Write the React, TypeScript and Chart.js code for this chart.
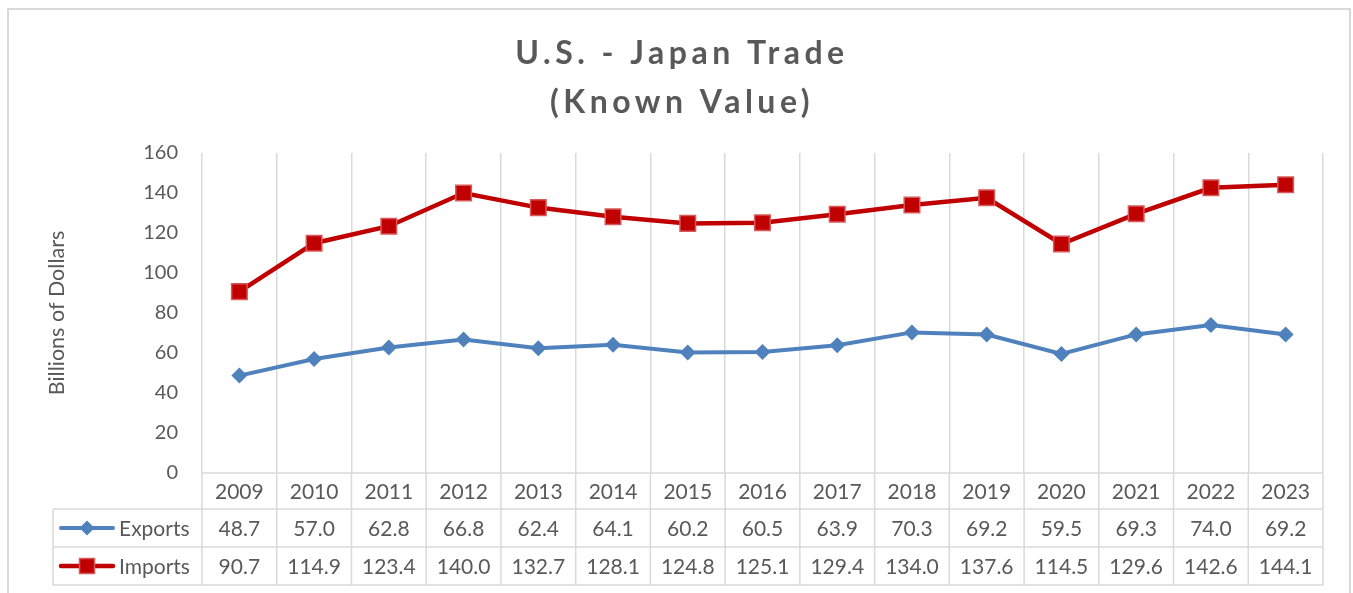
import React, { useEffect, useRef } from "react";
import { Chart, registerables } from "chart.js";

Chart.register(...registerables);

const years = ["2009", "2010", "2011", "2012", "2013", "2014", "2015", "2016", "2017", "2018", "2019", "2020", "2021", "2022", "2023"];
const exportsVals = [48.7, 57.0, 62.8, 66.8, 62.4, 64.1, 60.2, 60.5, 63.9, 70.3, 69.2, 59.5, 69.3, 74.0, 69.2];
const importsVals = [90.7, 114.9, 123.4, 140.0, 132.7, 128.1, 124.8, 125.1, 129.4, 134.0, 137.6, 114.5, 129.6, 142.6, 144.1];
const titleLines = ["U.S. - Japan Trade", "(Known Value)"];
const yTitle = "Billions of Dollars";

const FONT = "Lato, 'Open Sans', sans-serif";
const TEXT = "#595959";
const GRID = "#d9d9d9";
const BLUE = "#4f81bd";
const RED = "#c00000";
const RED_BORDER = "#d65a5a";

const W = 1353;
const H = 593;

const tablePlugin = {
  id: "excelTable",
  afterDraw(chart: any) {
    const ctx = chart.ctx as CanvasRenderingContext2D;
    const area = chart.chartArea;
    const xs = chart.scales.x;
    const n = years.length;
    const colW = (area.right - area.left) / n;
    const rowTop = area.bottom;
    const r1 = rowTop + 36;
    const r2 = r1 + 38;
    const r3 = r2 + 38;
    const leftX = 53;

    ctx.save();
    ctx.strokeStyle = GRID;
    ctx.lineWidth = 2;
    ctx.beginPath();
    ctx.moveTo(8, H + 10);
    ctx.lineTo(8, 9);
    ctx.lineTo(1350, 9);
    ctx.lineTo(1350, H + 10);
    ctx.stroke();

    ctx.lineWidth = 1.5;
    ctx.strokeStyle = GRID;
    ctx.beginPath();
    ctx.moveTo(area.left, rowTop);
    ctx.lineTo(area.right, rowTop);
    ctx.moveTo(leftX, r1);
    ctx.lineTo(area.right, r1);
    ctx.moveTo(leftX, r2);
    ctx.lineTo(area.right, r2);
    ctx.moveTo(leftX, r3);
    ctx.lineTo(area.right, r3);
    ctx.moveTo(leftX, r1);
    ctx.lineTo(leftX, r3);
    for (let i = 0; i <= n; i++) {
      const x = area.left + i * colW;
      ctx.moveTo(x, rowTop);
      ctx.lineTo(x, r3);
    }
    ctx.stroke();

    ctx.fillStyle = TEXT;
    ctx.font = `21px ${FONT}`;
    ctx.textAlign = "center";
    ctx.textBaseline = "middle";
    for (let i = 0; i < n; i++) {
      const cx = xs.getPixelForValue(i);
      ctx.fillText(years[i], cx, (rowTop + r1) / 2 + 1);
      ctx.fillText(exportsVals[i].toFixed(1), cx, (r1 + r2) / 2 + 1);
      ctx.fillText(importsVals[i].toFixed(1), cx, (r2 + r3) / 2 + 1);
    }

    const keyY1 = (r1 + r2) / 2;
    const keyY2 = (r2 + r3) / 2;
    ctx.lineCap = "round";
    ctx.lineWidth = 4;
    ctx.strokeStyle = BLUE;
    ctx.beginPath();
    ctx.moveTo(61, keyY1);
    ctx.lineTo(113, keyY1);
    ctx.stroke();
    ctx.fillStyle = BLUE;
    ctx.beginPath();
    ctx.moveTo(87, keyY1 - 7.5);
    ctx.lineTo(94.5, keyY1);
    ctx.lineTo(87, keyY1 + 7.5);
    ctx.lineTo(79.5, keyY1);
    ctx.closePath();
    ctx.fill();

    ctx.lineWidth = 4.5;
    ctx.strokeStyle = RED;
    ctx.beginPath();
    ctx.moveTo(61, keyY2);
    ctx.lineTo(113, keyY2);
    ctx.stroke();
    ctx.fillStyle = RED;
    ctx.fillRect(87 - 7.5, keyY2 - 7.5, 15, 15);
    ctx.lineWidth = 1.5;
    ctx.strokeStyle = RED_BORDER;
    ctx.strokeRect(87 - 7.5, keyY2 - 7.5, 15, 15);

    ctx.fillStyle = TEXT;
    ctx.textAlign = "left";
    ctx.fillText("Exports", 119, keyY1 + 1);
    ctx.fillText("Imports", 119, keyY2 + 1);

    ctx.textAlign = "center";
    ctx.textBaseline = "alphabetic";
    ctx.font = `bold 32px ${FONT}`;
    (ctx as any).letterSpacing = "4.5px";
    ctx.fillText(titleLines[0], 680 + 2, 64);
    ctx.fillText(titleLines[1], 680 + 2, 113);
    (ctx as any).letterSpacing = "0px";

    ctx.font = `21.5px ${FONT}`;
    ctx.translate(57, (area.top + area.bottom) / 2);
    ctx.rotate(-Math.PI / 2);
    ctx.textBaseline = "middle";
    ctx.fillText(yTitle, 0, 0);
    ctx.restore();
  },
};

export default function App() {
  const ref = useRef<HTMLCanvasElement | null>(null);

  useEffect(() => {
    if (!ref.current) return;
    const chart = new Chart(ref.current, {
      type: "line",
      data: {
        labels: years,
        datasets: [
          {
            label: "Imports",
            data: importsVals,
            borderColor: RED,
            backgroundColor: RED,
            borderWidth: 4.5,
            pointStyle: "rect",
            pointRadius: 11,
            pointBackgroundColor: RED,
            pointBorderColor: RED_BORDER,
            pointBorderWidth: 1.5,
            tension: 0,
          },
          {
            label: "Exports",
            data: exportsVals,
            borderColor: BLUE,
            backgroundColor: BLUE,
            borderWidth: 4,
            pointStyle: "rectRot",
            pointRadius: 8,
            pointBackgroundColor: BLUE,
            pointBorderColor: BLUE,
            pointBorderWidth: 0,
            tension: 0,
          },
        ],
      },
      options: {
        responsive: false,
        animation: false,
        devicePixelRatio: 1,
        layout: { padding: { left: 0, top: 153, right: 30, bottom: 120 } },
        plugins: {
          legend: { display: false },
          title: { display: false },
          tooltip: { enabled: false },
        },
        scales: {
          x: {
            offset: true,
            grid: { display: true, offset: true, color: GRID, lineWidth: 1.5, drawTicks: false },
            border: { display: false },
            ticks: { display: false },
            afterFit: (s: any) => {
              s.height = 0;
            },
          },
          y: {
            min: 0,
            max: 160,
            grid: { display: false, drawTicks: false },
            border: { display: false },
            ticks: {
              stepSize: 20,
              padding: 24,
              color: TEXT,
              font: { family: FONT, size: 20 },
            },
            afterFit: (s: any) => {
              s.width = 202;
            },
          },
        },
      },
      plugins: [tablePlugin],
    });
    return () => chart.destroy();
  }, []);

  return (
    <div style={{ position: "absolute", left: 0, top: 0, width: W, height: H, background: "#fff" }}>
      <canvas ref={ref} width={W} height={H} style={{ display: "block" }} />
    </div>
  );
}
